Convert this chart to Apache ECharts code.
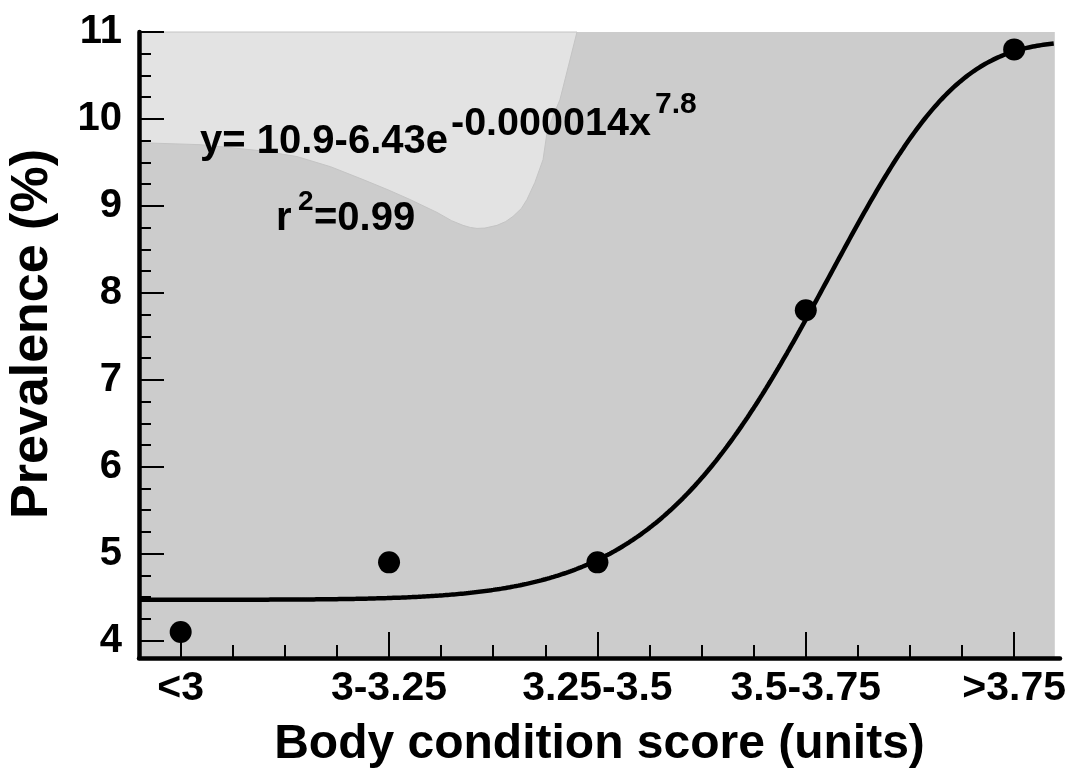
<!DOCTYPE html>
<html>
<head>
<meta charset="utf-8">
<script src="https://cdn.jsdelivr.net/npm/echarts@6/dist/echarts.min.js"></script>
<style>
  html, body { margin: 0; padding: 0; background: #ffffff; }
  #chart { width: 1070px; height: 774px; }
</style>
</head>
<body>
<div id="chart"></div>
<script>
// Body condition score classes and observed prevalence (%)
const categories = ['<3', '3-3.25', '3.25-3.5', '3.5-3.75', '>3.75'];
const prevalence = [4.1, 4.9, 4.9, 7.8, 10.8];
const yTickValues = [4, 5, 6, 7, 8, 9, 10, 11];

// Fitted model: y = A - B * exp(-K * x^P)
const fitA = 10.9;
const fitB = 6.43;
const fitK = 0.000014;
const fitP = 7.8;
const fitR2 = '0.99';

// Outline of the lighter shaded patch behind the equation (data space)
const lightPatch = [
  [0.8, 11], [0.8, 9.727], [1.093, 9.704], [1.237, 9.670], [1.40, 9.63], [1.558, 9.567],
  [1.72, 9.45], [1.875, 9.303], [2.00, 9.18], [2.100, 9.074], [2.230, 8.925],
  [2.30, 8.83], [2.355, 8.776], [2.39, 8.752], [2.422, 8.741], [2.46, 8.745],
  [2.518, 8.776], [2.56, 8.82], [2.595, 8.879], [2.635, 8.97], [2.662, 9.074],
  [2.70, 9.27], [2.739, 9.532], [2.758, 9.842], [2.79, 10.05], [2.820, 10.220],
  [2.86, 10.6], [2.902, 11]
];

const X_MIN = 0.8, X_MAX = 5.22, Y_MIN = 3.8, Y_MAX = 11;

// Sample the fitted curve across the plotted range
const curve = [];
for (let i = 0; i <= 440; i++) {
  const x = X_MIN + i * 0.01;
  if (x > 5.19) break;
  curve.push([x, fitA - fitB * Math.exp(-fitK * Math.pow(x, fitP))]);
}

const points = categories.map((c, i) => [i + 1, prevalence[i]]);
const majorX = categories.map((c, i) => i + 1);
const minorX = [];
for (let i = 1; i < categories.length; i++) {
  for (let k = 1; k < 4; k++) minorX.push(i + k * 0.25);
}
const minorY = [];
for (let v = 4; v < 11; v++) {
  for (let k = 1; k < 4; k++) minorY.push(v + k * 0.25);
}

const FONT = '"Liberation Sans", Arial, Helvetica, sans-serif';

const chart = echarts.init(document.getElementById('chart'), null, { renderer: 'canvas' });

function txt(text, x, y, size, extra) {
  const el = {
    type: 'text',
    z: 50,
    style: {
      text: text, x: x, y: y,
      font: 'bold ' + size + 'px ' + FONT,
      fill: '#000',
      textAlign: 'left', textVerticalAlign: 'middle',
      align: 'left', verticalAlign: 'middle'
    }
  };
  return Object.assign(el, extra || {});
}

chart.setOption({
  animation: false,
  backgroundColor: '#ffffff',
  grid: { left: 139, right: 10, top: 32, bottom: 114, containLabel: false },
  xAxis: [
    {
      type: 'value', min: X_MIN, max: X_MAX,
      name: 'Body condition score (units)',
      nameLocation: 'middle', nameGap: 63,
      nameTextStyle: { fontFamily: FONT, fontWeight: 'bold', fontSize: 48, color: '#000' },
      axisLine: { show: true, onZero: false, lineStyle: { color: '#000', width: 4.5 } },
      axisTick: { show: true, inside: true, length: 26, customValues: majorX, lineStyle: { color: '#000', width: 2 } },
      axisLabel: {
        show: true, customValues: majorX, margin: 10,
        formatter: v => categories[Math.round(v) - 1],
        fontFamily: FONT, fontWeight: 'bold', fontSize: 41, color: '#000'
      },
      splitLine: { show: false }
    },
    {
      type: 'value', min: X_MIN, max: X_MAX, position: 'bottom',
      axisLine: { show: false },
      axisTick: { show: true, inside: true, length: 13, customValues: minorX, lineStyle: { color: '#000', width: 2 } },
      axisLabel: { show: false },
      splitLine: { show: false }
    }
  ],
  yAxis: [
    {
      type: 'value', min: Y_MIN, max: Y_MAX,
      axisLine: { show: true, onZero: false, lineStyle: { color: '#000', width: 4.5 } },
      axisTick: { show: true, inside: true, length: 25, customValues: yTickValues, lineStyle: { color: '#000', width: 2 } },
      axisLabel: {
        show: true, customValues: yTickValues, margin: 17,
        fontFamily: FONT, fontWeight: 'bold', fontSize: 40, color: '#000'
      },
      splitLine: { show: false }
    },
    {
      type: 'value', min: Y_MIN, max: Y_MAX, position: 'left',
      axisLine: { show: false },
      axisTick: { show: true, inside: true, length: 12, customValues: minorY, lineStyle: { color: '#000', width: 2 } },
      axisLabel: { show: false },
      splitLine: { show: false }
    }
  ],
  series: [
    {
      // shaded plot background with the lighter patch
      type: 'custom',
      z: -1,
      silent: true,
      data: [[X_MIN, Y_MIN]],
      renderItem: function (params, api) {
        const tl = api.coord([X_MIN, Y_MAX]);
        const br = api.coord([5.195, Y_MIN]);
        const poly = lightPatch.map(p => api.coord(p));
        return {
          type: 'group',
          children: [
            { type: 'rect', shape: { x: tl[0], y: tl[1], width: br[0] - tl[0], height: br[1] - tl[1] },
              style: { fill: '#cccccc' } },
            { type: 'polygon', shape: { points: poly, smooth: 0 },
              style: { fill: '#e3e3e3', stroke: '#c4c4c4', lineWidth: 1 } }
          ]
        };
      }
    },
    {
      type: 'line',
      data: curve,
      showSymbol: false,
      symbol: 'none',
      smooth: false,
      lineStyle: { color: '#000', width: 4.5 },
      z: 3
    },
    {
      type: 'scatter',
      data: points,
      symbol: 'circle',
      symbolSize: 22,
      itemStyle: { color: '#000', opacity: 1 },
      z: 4
    }
  ],
  graphic: [
    {
      type: 'text', z: 50, x: 33, y: 334, rotation: Math.PI / 2,
      style: {
        text: 'Prevalence (%)', x: 0, y: 0,
        font: 'bold 52px ' + FONT, fill: '#000',
        textAlign: 'center', textVerticalAlign: 'middle',
        align: 'center', verticalAlign: 'middle'
      }
    },
    txt('y= ' + fitA + '-' + fitB + 'e', 200, 142, 40),
    txt('-' + fitK.toFixed(6) + 'x', 451, 124, 39.5),
    txt(String(fitP), 655, 105, 30),
    txt('r', 276, 219, 40),
    txt('2', 298, 202, 28),
    txt('=' + fitR2, 314, 219, 40)
  ]
});
</script>
</body>
</html>
